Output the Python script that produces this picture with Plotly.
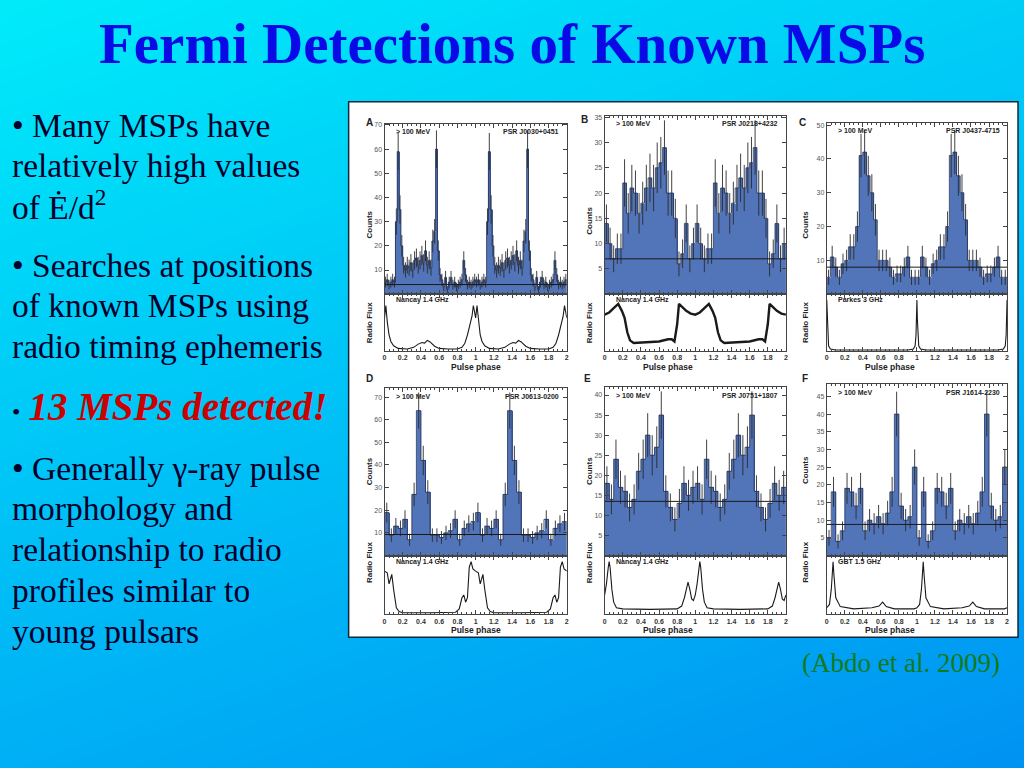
import plotly.graph_objects as go

W, H = 1024, 768

# ---------------- data ----------------
panel_letters = ["A", "B", "C", "D", "E", "F"]
psr_names = ["PSR J0030+0451", "PSR J0218+4232", "PSR J0437-4715",
             "PSR J0613-0200", "PSR J0751+1807", "PSR J1614-2230"]
radio_labels = ["Nancay 1.4 GHz", "Nancay 1.4 GHz", "Parkes 3 GHz",
                "Nancay 1.4 GHz", "Nancay 1.4 GHz", "GBT 1.5 GHz"]
energy_label = "> 100 MeV"

# gamma-ray counts per phase bin, one rotation (plotted twice: phase 0-2)
counts_A = [5, 6, 4, 5, 6, 5, 30, 59, 35, 20, 12, 10, 12, 11, 13, 10, 14, 15, 12, 14,
            16, 13, 18, 12, 14, 11, 22, 26, 60, 18, 8, 6, 3, 7, 2, 5, 7, 4, 5, 3,
            4, 5, 6, 14, 8, 4, 5, 4, 5, 6]
counts_B = [14, 10, 7, 9, 9, 22, 16, 21, 20, 16, 18, 21, 23, 21, 25, 26, 29, 20, 20, 15,
            6, 8, 14, 7, 10]
counts_C = [5, 11, 8, 5, 9, 10, 14, 14, 20, 41, 42, 35, 30, 22, 10, 10, 10, 8, 5, 6,
            6, 8, 11, 5, 5]
counts_D = [19, 9, 13, 12, 16, 7, 27, 64, 42, 28, 9, 9, 8, 10, 11, 16, 7, 12, 14, 15]
counts_E = [18, 14, 24, 17, 16, 12, 14, 21, 24, 30, 25, 27, 35, 16, 12, 9, 13, 18, 15, 17]
counts_F = [5, 18, 4, 7, 19, 18, 14, 19, 7, 10, 9, 11, 9, 12, 18, 40, 14, 10, 11, 25]
counts_all = [counts_A, counts_B, counts_C, counts_D, counts_E, counts_F]

background_levels = [4, 7, 8, 9.3, 13.5, 8.8]
counts_ymax = [70.5, 35.3, 50.7, 74, 42, 48.5]
counts_ticks = [[10, 20, 30, 40, 50, 60, 70],
                [5, 10, 15, 20, 25, 30, 35],
                [10, 20, 30, 40, 50],
                [10, 20, 30, 40, 50, 60, 70],
                [5, 10, 15, 20, 25, 30, 35, 40],
                [5, 10, 15, 20, 25, 30, 35, 40, 45]]

# radio profiles, one rotation (phase, normalised flux)
radio_phase_A = [0.00, 0.015, 0.03, 0.05, 0.07, 0.10, 0.15, 0.25, 0.32, 0.37, 0.41, 0.44,
                 0.47, 0.50, 0.55, 0.60, 0.70, 0.80, 0.85, 0.88, 0.91, 0.94, 0.96, 0.975, 0.99]
radio_flux_A = [0.62, 0.85, 0.55, 0.30, 0.18, 0.10, 0.05, 0.04, 0.07, 0.13, 0.16, 0.15,
                0.20, 0.17, 0.09, 0.05, 0.04, 0.04, 0.07, 0.14, 0.30, 0.50, 0.65, 0.85, 0.70]
radio_phase_B = [0.00, 0.05, 0.10, 0.15, 0.19, 0.22, 0.25, 0.28, 0.32, 0.40, 0.50, 0.60,
                 0.70, 0.74, 0.77, 0.80, 0.82, 0.86, 0.90, 0.95]
radio_flux_B = [0.68, 0.72, 0.80, 0.88, 0.75, 0.62, 0.35, 0.20, 0.15, 0.16, 0.18, 0.18,
                0.22, 0.22, 0.18, 0.50, 0.88, 0.82, 0.75, 0.70]
radio_phase_C = [0.00, 0.005, 0.01, 0.02, 0.04, 0.10, 0.50, 0.90, 0.96, 0.98, 0.99, 0.995]
radio_flux_C = [0.95, 0.60, 0.30, 0.10, 0.04, 0.02, 0.02, 0.02, 0.04, 0.10, 0.30, 0.60]
radio_phase_D = [0.00, 0.03, 0.05, 0.08, 0.10, 0.13, 0.16, 0.20, 0.50, 0.78, 0.82, 0.85,
                 0.87, 0.89, 0.91, 0.93, 0.95, 0.97]
radio_flux_D = [0.78, 0.75, 0.55, 0.72, 0.45, 0.12, 0.05, 0.03, 0.03, 0.04, 0.10, 0.30,
                0.35, 0.22, 0.30, 0.85, 0.95, 0.82]
radio_phase_E = [0.00, 0.02, 0.04, 0.05, 0.06, 0.08, 0.10, 0.13, 0.20, 0.50, 0.80, 0.85,
                 0.88, 0.91, 0.92, 0.94, 0.96, 0.98]
radio_flux_E = [0.35, 0.55, 0.85, 0.95, 0.85, 0.45, 0.22, 0.12, 0.10, 0.09, 0.10, 0.15,
                0.30, 0.55, 0.58, 0.45, 0.28, 0.25]
radio_phase_F = [0.00, 0.03, 0.05, 0.06, 0.07, 0.08, 0.10, 0.15, 0.30, 0.50, 0.58, 0.62,
                 0.66, 0.75, 0.90, 0.97]
radio_flux_F = [0.12, 0.18, 0.45, 0.80, 0.95, 0.70, 0.30, 0.14, 0.10, 0.12, 0.15, 0.22,
                0.14, 0.10, 0.10, 0.10]
radio_phase_all = [radio_phase_A, radio_phase_B, radio_phase_C,
                   radio_phase_D, radio_phase_E, radio_phase_F]
radio_flux_all = [radio_flux_A, radio_flux_B, radio_flux_C,
                  radio_flux_D, radio_flux_E, radio_flux_F]

phase_ticks = [0, 0.2, 0.4, 0.6, 0.8, 1, 1.2, 1.4, 1.6, 1.8, 2]
phase_ticktext = ["0", "0.2", "0.4", "0.6", "0.8", "1", "1.2", "1.4", "1.6", "1.8", "2"]

title_text = "Fermi Detections of Known MSPs"
bullet_lines = [
    ("• Many MSPs have", 124),
    ("relatively high values", 164),
    ("of Ė/d<sup>2</sup>", 204),
    ("• Searches at positions", 264),
    ("of known MSPs using", 304),
    ("radio timing ephemeris", 345),
    ("• Generally γ-ray pulse", 468),
    ("morphology and", 508),
    ("relationship to radio", 549),
    ("profiles similar to", 590),
    ("young pulsars", 631),
]
highlight_text = "13 MSPs detected!"
citation_text = "(Abdo et al. 2009)"

# ---------------- layout helpers ----------------
def fx(p):
    return p / W

def fy(p):
    return 1 - p / H

col_x = [(384, 567), (605, 787), (828, 1009)]
row_tops = [[122, 114, 121], [387, 386, 383]]
row_split = [293, 555]
row_bottom = [350, 614]
letter_pos = [(369, 113), (585, 110), (809, 113), (369, 377), (588, 377), (811, 377)]

TXT = "#00002a"
FONT = "Liberation Sans"
SERIF = "Liberation Serif"
HIST = "#5274b9"

fig = go.Figure()
layout = dict(width=W, height=H, margin=dict(l=0, r=0, t=0, b=0),
              paper_bgcolor="#00e8fa", plot_bgcolor="rgba(0,0,0,0)",
              showlegend=False, bargap=0)
shapes = []
annotations = []

# diagonal background gradient (stacked bands, no seams)
c0 = (0, 234, 250)
c1 = (0, 146, 242)
nb = 90
wx, wy = 0.32, 0.68
for k in range(nb + 1):
    t = -0.02 + 1.04 * k / nb
    tt = min(max(t, 0), 1)
    col = "rgb(%d,%d,%d)" % tuple(round(a + (b - a) * tt) for a, b in zip(c0, c1))
    X0, X1 = -0.2, 1.2
    Ya = (t - wx * X0) / wy
    Yb = (t - wx * X1) / wy
    path = "M %f,%f L %f,%f L %f,%f L %f,%f Z" % (X0, 1 - Ya, X1, 1 - Yb, X1, -1.5, X0, -1.5)
    shapes.append(dict(type="path", xref="paper", yref="paper", path=path,
                       fillcolor=col, line=dict(width=0), layer="below"))

# white figure frame
shapes.append(dict(type="rect", xref="paper", yref="paper",
                   x0=fx(348), x1=fx(1020), y0=fy(637), y1=fy(100),
                   fillcolor="white", line=dict(color="#10283a", width=1.5), layer="below"))

for i in range(6):
    r, c = divmod(i, 3)
    gi, ri = 2 + 2 * i, 3 + 2 * i
    x0, x1 = col_x[c]
    top, split, bot = row_tops[r][c], row_split[r], row_bottom[r]
    gx, gy, rx, ry = "x%d" % gi, "y%d" % gi, "x%d" % ri, "y%d" % ri

    counts = counts_all[i]
    nbin = len(counts)
    bw = 1.0 / nbin
    full = counts + counts
    centers = [(k + 0.5) * bw for k in range(2 * nbin)]
    edges = [k * bw for k in range(2 * nbin + 1)]
    errs = [v ** 0.5 for v in full]

    fig.add_trace(go.Bar(x=centers, y=full, width=bw, xaxis=gx, yaxis=gy,
                         marker=dict(color=HIST, line=dict(width=0)), hoverinfo="skip"))
    fig.add_trace(go.Scatter(x=centers, y=full, mode="markers", xaxis=gx, yaxis=gy,
                             marker=dict(size=1, color="rgba(0,0,0,0)"),
                             error_y=dict(type="data", array=errs, color="#2b2b2b",
                                          thickness=0.9, width=0), hoverinfo="skip"))
    fig.add_trace(go.Scatter(x=edges, y=full + [full[-1]], mode="lines", line_shape="hv",
                             xaxis=gx, yaxis=gy, line=dict(color="#27375c", width=0.9),
                             hoverinfo="skip"))
    fig.add_trace(go.Scatter(x=[0, 2], y=[background_levels[i]] * 2, mode="lines",
                             xaxis=gx, yaxis=gy, line=dict(color="#1a1a1a", width=1),
                             hoverinfo="skip"))

    ph = radio_phase_all[i]
    fl = radio_flux_all[i]
    rph = ph + [p + 1 for p in ph] + [2.0]
    rfl = fl + fl + [fl[0]]
    fig.add_trace(go.Scatter(x=rph, y=rfl, mode="lines", xaxis=rx, yaxis=ry,
                             line=dict(color="#1a1a1a", width=2.4 if i == 1 else 1.1),
                             hoverinfo="skip"))

    common_x = dict(range=[0, 2], showline=True, linecolor="#444", linewidth=1,
                    mirror="ticks", ticks="inside", ticklen=4, tickcolor="#444",
                    tickvals=phase_ticks, showgrid=False, zeroline=False,
                    minor=dict(ticks="inside", ticklen=2, dtick=0.05, tick0=0,
                               tickcolor="#444"))
    layout["xaxis%d" % gi] = dict(common_x, domain=[fx(x0), fx(x1)], anchor=gy,
                                  showticklabels=False)
    layout["yaxis%d" % gi] = dict(domain=[fy(split), fy(top)], anchor=gx,
                                  range=[0, counts_ymax[i]], tickvals=counts_ticks[i],
                                  showline=True, linecolor="#444", mirror="ticks",
                                  ticks="inside", ticklen=4, tickcolor="#444",
                                  showgrid=False, zeroline=False,
                                  tickfont=dict(family=FONT, size=7, color="#555"))
    layout["xaxis%d" % ri] = dict(common_x, domain=[fx(x0), fx(x1)], anchor=ry,
                                  ticktext=phase_ticktext,
                                  tickfont=dict(family=FONT, size=7, color="#333",
                                                weight="bold"))
    layout["yaxis%d" % ri] = dict(domain=[fy(bot), fy(split)], anchor=rx,
                                  range=[0, 1.06], showticklabels=False, ticks="",
                                  showline=True, linecolor="#444", mirror=True,
                                  showgrid=False, zeroline=False)

    small = dict(family=FONT, size=7, color="#222", weight="bold")
    annotations += [
        dict(xref=gx + " domain", yref=gy + " domain", x=0.05, y=0.985,
             xanchor="left", yanchor="top", text=energy_label, showarrow=False, font=small),
        dict(xref=gx + " domain", yref=gy + " domain", x=0.97, y=0.985,
             xanchor="right", yanchor="top", text=psr_names[i], showarrow=False, font=small),
        dict(xref=rx + " domain", yref=ry + " domain", x=0.05, y=1.0,
             xanchor="left", yanchor="top", text=radio_labels[i], showarrow=False, font=small),
        dict(xref="paper", yref="paper", x=fx(letter_pos[i][0]), y=fy(letter_pos[i][1]),
             text=panel_letters[i], showarrow=False,
             font=dict(family=FONT, size=10, color="#222", weight="bold")),
        dict(xref="paper", yref="paper", x=fx(x0 - 15), y=fy((top + split) / 2),
             text="Counts", textangle=-90, showarrow=False,
             font=dict(family=FONT, size=8, color="#222", weight="bold")),
        dict(xref="paper", yref="paper", x=fx(x0 - 15), y=fy((split + bot) / 2),
             text="Radio Flux", textangle=-90, showarrow=False,
             font=dict(family=FONT, size=8, color="#222", weight="bold")),
        dict(xref="paper", yref="paper", x=fx((x0 + x1) / 2), y=fy(bot + 16),
             text="Pulse phase", showarrow=False, yanchor="middle",
             font=dict(family=FONT, size=8.5, color="#222", weight="bold")),
    ]

# slide texts
annotations.append(dict(xref="paper", yref="paper", x=0.5, y=fy(42), text=title_text,
                        showarrow=False, xanchor="center", yanchor="middle",
                        font=dict(family=SERIF, size=57, color="#0a0ae6", weight="bold")))
for txt, ypx in bullet_lines:
    annotations.append(dict(xref="paper", yref="paper", x=fx(8), y=fy(ypx), text=txt,
                            showarrow=False, xanchor="left", yanchor="middle",
                            font=dict(family=SERIF, size=33.5, color=TXT)))
annotations.append(dict(xref="paper", yref="paper", x=fx(8), y=fy(406),
                        text="<span style='font-size:24px'>•</span> "
                             "<span style='color:#cc0000;font-size:39px'><b><i>"
                             + highlight_text + "</i></b></span>",
                        showarrow=False, xanchor="left", yanchor="middle",
                        font=dict(family=SERIF, size=32, color=TXT)))
annotations.append(dict(xref="paper", yref="paper", x=fx(1004), y=fy(663),
                        text=citation_text, showarrow=False, xanchor="right",
                        yanchor="middle", font=dict(family=SERIF, size=27, color="#137a1a")))

layout["shapes"] = shapes
layout["annotations"] = annotations
fig.update_layout(**layout)
fig.write_html("out.html",
               config={"displayModeBar": False},
               post_script="document.body.style.margin='0px';"
                           "document.body.style.overflow='hidden';")
